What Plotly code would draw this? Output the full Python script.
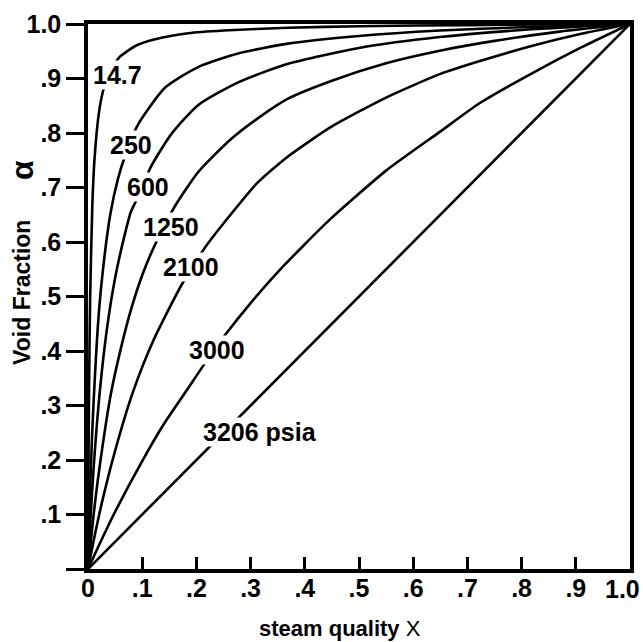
import plotly.graph_objects as go

# ---- data (steam quality X vs void fraction alpha) ----
quality_14_7 = [0, 0.001, 0.002, 0.004, 0.008, 0.012, 0.02, 0.028, 0.04, 0.059, 0.09, 0.124, 0.185, 0.25, 0.369, 0.5, 0.7, 1.0]
void_14_7 = [0, 0.20, 0.334, 0.501, 0.668, 0.752, 0.836, 0.878, 0.912, 0.940, 0.961, 0.972, 0.983, 0.988, 0.993, 0.996, 0.998, 1.0]

quality_250 = [0, 0.002, 0.005, 0.01, 0.02, 0.03, 0.041, 0.055, 0.068, 0.092, 0.142, 0.203, 0.277, 0.369, 0.5, 0.649, 0.8, 1.0]
void_250 = [0, 0.08, 0.18, 0.30, 0.47, 0.57, 0.65, 0.715, 0.757, 0.815, 0.883, 0.921, 0.946, 0.964, 0.978, 0.988, 0.994, 1.0]

quality_600 = [0, 0.005, 0.01, 0.022, 0.035, 0.05, 0.065, 0.079, 0.089, 0.116, 0.153, 0.203, 0.277, 0.369, 0.5, 0.649, 0.8, 1.0]
void_600 = [0, 0.098, 0.18, 0.328, 0.441, 0.534, 0.602, 0.655, 0.676, 0.738, 0.797, 0.851, 0.893, 0.927, 0.956, 0.976, 0.989, 1.0]

quality_1250 = [0, 0.01, 0.02, 0.042, 0.06, 0.08, 0.1, 0.124, 0.157, 0.203, 0.264, 0.319, 0.369, 0.45, 0.55, 0.649, 0.75, 0.87, 1.0]
void_1250 = [0, 0.096, 0.177, 0.32, 0.402, 0.478, 0.539, 0.596, 0.66, 0.728, 0.789, 0.831, 0.863, 0.896, 0.928, 0.951, 0.969, 0.986, 1.0]

quality_2100 = [0, 0.01, 0.025, 0.05, 0.083, 0.12, 0.173, 0.216, 0.258, 0.312, 0.369, 0.45, 0.55, 0.649, 0.723, 0.82, 0.91, 1.0]
void_2100 = [0, 0.05, 0.119, 0.217, 0.325, 0.418, 0.522, 0.59, 0.644, 0.708, 0.757, 0.812, 0.865, 0.908, 0.932, 0.96, 0.982, 1.0]

quality_3000 = [0, 0.02, 0.05, 0.1, 0.14, 0.185, 0.214, 0.255, 0.3, 0.354, 0.446, 0.55, 0.649, 0.723, 0.82, 0.91, 1.0]
void_3000 = [0, 0.043, 0.105, 0.198, 0.266, 0.332, 0.375, 0.432, 0.488, 0.549, 0.641, 0.731, 0.802, 0.855, 0.91, 0.957, 1.0]

quality_3206 = [0, 1.0]
void_3206 = [0, 1.0]

curve_labels = ["14.7", "250", "600", "1250", "2100", "3000", "3206 psia"]

x_ticks = [0, 0.1, 0.2, 0.3, 0.4, 0.5, 0.6, 0.7, 0.8, 0.9, 1.0]
x_tick_text = ["0", ".1", ".2", ".3", ".4", ".5", ".6", ".7", ".8", ".9", "1.0"]
y_ticks = [0, 0.1, 0.2, 0.3, 0.4, 0.5, 0.6, 0.7, 0.8, 0.9, 1.0]
y_tick_text = ["", ".1", ".2", ".3", ".4", ".5", ".6", ".7", ".8", ".9", "1.0"]

series = [
    (quality_14_7, void_14_7),
    (quality_250, void_250),
    (quality_600, void_600),
    (quality_1250, void_1250),
    (quality_2100, void_2100),
    (quality_3000, void_3000),
    (quality_3206, void_3206),
]

# label anchor positions (layout only)
label_pos = [(0.055, 0.906), (0.079, 0.778), (0.111, 0.701), (0.153, 0.628),
             (0.190, 0.554), (0.238, 0.402), (0.317, 0.251)]

fig = go.Figure()
for (xs, ys), name in zip(series, curve_labels):
    fig.add_trace(go.Scatter(x=xs, y=ys, mode="lines", name=name,
                             line=dict(color="black", width=2.6, shape="spline", smoothing=0.6),
                             showlegend=False, hoverinfo="skip"))

FAMILY = "Liberation Sans, Arial, sans-serif"
LBL_FONT = dict(family=FAMILY, size=25, color="black", weight="bold")
for (lx, ly), name in zip(label_pos, curve_labels):
    fig.add_annotation(x=lx, y=ly, xref="x", yref="y", text=name, showarrow=False,
                       font=LBL_FONT, bgcolor="white", borderpad=0,
                       xanchor="center", yanchor="middle")

TITLE_FONT = dict(family=FAMILY, size=23, color="black", weight="bold")
# y-axis title: "Void Fraction" + larger alpha
fig.add_annotation(x=-0.122, y=(569 - 292) / 545, xref="paper", yref="paper",
                   text="Void Fraction", textangle=-90, showarrow=False, font=TITLE_FONT,
                   xanchor="center", yanchor="middle")
fig.add_annotation(x=-0.122, y=(569 - 170) / 545, xref="paper", yref="paper",
                   text="α", textangle=-90, showarrow=False,
                   font=dict(family=FAMILY, size=32, color="black", weight="bold"),
                   xanchor="center", yanchor="middle")
fig.add_annotation(x=0.465, y=-0.11, xref="paper", yref="paper",
                   text="<b>steam quality</b> X", showarrow=False,
                   font=dict(family=FAMILY, size=22, color="black"),
                   xanchor="center", yanchor="middle")

TICK_FONT = dict(family=FAMILY, size=25, color="black", weight="bold")
# last x tick label sits at the right edge; keep it inside the page
fig.add_annotation(x=x_ticks[-1], y=0, xref="x", yref="paper", text=x_tick_text[-1],
                   showarrow=False, font=TICK_FONT, xanchor="center", yanchor="top",
                   xshift=-8, yshift=-4)

fig.update_xaxes(range=[0, 1], tickvals=x_ticks[:-1], ticktext=x_tick_text[:-1],
                 showline=True, mirror=True, linecolor="black", linewidth=3.5,
                 ticks="inside", ticklen=12, tickwidth=3, tickcolor="black",
                 showgrid=False, zeroline=False, tickfont=TICK_FONT,
                 ticklabelstandoff=-6, automargin=False)
fig.update_yaxes(range=[0, 1], tickvals=y_ticks, ticktext=y_tick_text,
                 showline=True, mirror=True, linecolor="black", linewidth=3.5,
                 ticks="outside", ticklen=18, tickwidth=3, tickcolor="black",
                 showgrid=False, zeroline=False, tickfont=TICK_FONT, automargin=False)

fig.update_layout(width=643, height=642,
                  margin=dict(l=88, r=13, t=24, b=73),
                  paper_bgcolor="white", plot_bgcolor="white",
                  font=dict(family=FAMILY, color="black"))

fig.write_html("out.html", config={"displayModeBar": False},
               post_script="document.body.style.margin='0';document.body.style.overflow='hidden';")
